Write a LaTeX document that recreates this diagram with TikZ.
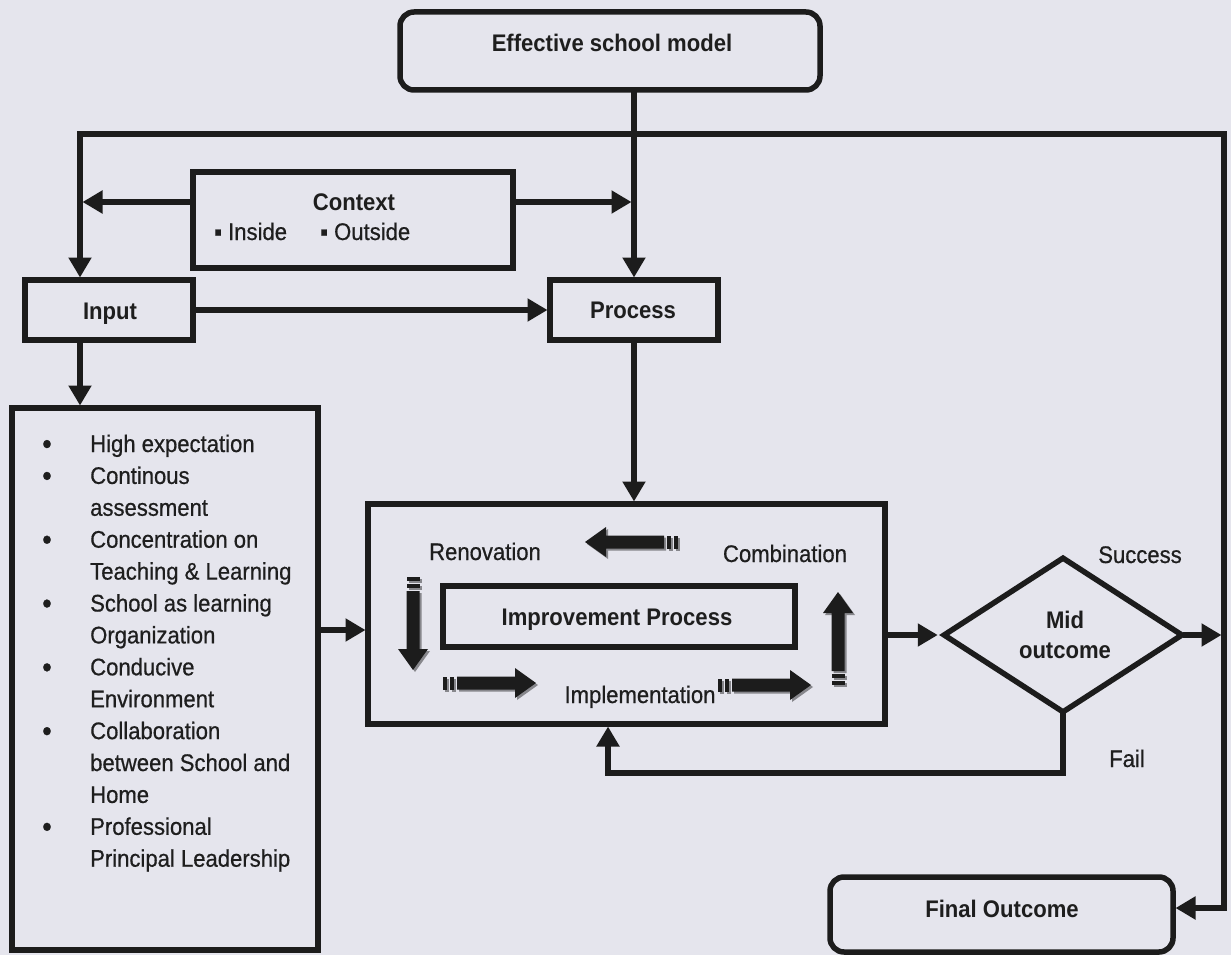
\documentclass[tikz,border=0pt]{standalone}
\usepackage{fontspec}
\setmainfont{Liberation Sans}[FakeStretch=0.92, UprightFeatures={FakeBold=0.6}]
\usetikzlibrary{arrows.meta,shapes.geometric,calc}
\definecolor{bgc}{RGB}{229,229,237}
\definecolor{ink}{RGB}{28,28,28}
\definecolor{txtc}{RGB}{30,30,30}
\definecolor{shd}{RGB}{135,135,140}
\tikzset{
  pics/barrow/.style={code={
    \fill[#1] (0,-6.5) rectangle (4,6.5);
    \fill[#1] (7,-6.5) rectangle (11,6.5);
    \fill[#1] (14,-6.5) -- (72,-6.5) -- (72,-15) -- (93,0) -- (72,15) -- (72,6.5) -- (14,6.5) -- cycle;
  }}
}
\begin{document}
\begin{tikzpicture}[x=1pt,y=-1pt,ink,
  box/.style={draw=ink, line width=5.5pt, inner sep=0pt, outer sep=0pt, rectangle},
  rbox/.style={box, rounded corners=14pt},
  ln/.style={draw=ink, line width=5.5pt, line cap=rect},
  arr/.style={ln, shorten >=2.5pt, -{Triangle[width=22pt,length=20pt]}},
  txt/.style={anchor=base, inner sep=0pt, text=txtc, font=\fontsize{24}{32}\selectfont},
  btxt/.style={txt, font=\fontsize{24}{32}\selectfont\bfseries}]
\path[fill=bgc, use as bounding box] (0,0) rectangle (1231,955);

% boxes
\node[rbox, minimum width=420pt, minimum height=78pt] (top) at (610,51) {};
\node[box, minimum width=320pt, minimum height=96pt] (ctx) at (353,220) {};
\node[box, minimum width=168pt, minimum height=60pt] (input) at (109,310) {};
\node[box, minimum width=168pt, minimum height=60pt] (process) at (634,310) {};
\node[box, minimum width=306pt, minimum height=542pt] (list) at (165,679) {};
\node[box, minimum width=517pt, minimum height=220pt] (outer) at (626.5,614) {};
\node[box, minimum width=352pt, minimum height=61pt] (inner) at (619,616.5) {};
\node[draw=ink, line width=5.5pt, inner sep=0pt, diamond, aspect=1.54, minimum width=240pt, minimum height=156pt] (dia) at (1063,635) {};
\node[rbox, minimum width=343pt, minimum height=75pt] (final) at (1001.5,914.5) {};

% texts
\node[btxt] (ttop) at (612,52) {Effective school model};
\node[btxt] (tctx) at (354,210) {Context};
\node[txt, anchor=base west] (tin) at (214,240) {▪ Inside};
\node[txt, anchor=base west] (tout) at (320,240) {▪ Outside};
\node[btxt] (tinput) at (110,319) {Input};
\node[btxt] (tproc) at (633,318) {Process};
\node[btxt] (timp) at (617,625) {Improvement Process};
\node[txt] (tren) at (485,560) {Renovation};
\node[txt] (tcomb) at (785,562) {Combination};
\node[txt] (timpl) at (640,703) {Implementation};
\node[btxt] (tmid) at (1065,628) {Mid};
\node[btxt] (toutc) at (1065,658) {outcome};
\node[txt] (tsucc) at (1140,563) {Success};
\node[txt] (tfail) at (1127,767) {Fail};
\node[btxt] (tfinal) at (1002,917) {Final Outcome};

\foreach \t/\b [count=\i from 0] in {High expectation/1, Continous/1, assessment/0, Concentration on/1, Teaching \& Learning/0, School as learning/1, Organization/0, Conducive/1, Environment/0, Collaboration/1, between School and/0, Home/0, Professional/1, Principal Leadership/0}{
  \node[txt, anchor=base west] (li\i) at (90,{452+31.9*\i}) {\t};
  \ifnum\b=1
    \node[txt, font=\fontsize{30}{30}\selectfont] (bu\i) at (47,{454+31.9*\i}) {•};
  \fi
}

% connectors
\coordinate (busL) at (80,134);
\coordinate (busR) at (1224,134);
\draw[arr] (busR) -- (busL) -- (busL |- input.north);
\draw[arr] (top.south -| process.north) -- (process.north);
\coordinate (cw) at ([yshift=18pt]ctx.west);
\coordinate (ce) at ([yshift=18pt]ctx.east);
\draw[arr] (cw) -- (cw -| busL);
\draw[arr] (ce) -- (ce -| process.north);
\draw[arr] (input.east) -- (process.west);
\draw[arr] (busL |- input.south) -- (busL |- list.north);
\coordinate (lo) at ([yshift=-16pt]outer.west);
\draw[arr] (lo -| list.east) -- (lo);
\draw[arr] (process.south) -- (process.south |- outer.north);
\draw[arr] (outer.east |- dia.west) -- (dia.west);
\draw[arr] (dia.east) -- (dia.east -| busR);
\coordinate (fl) at (608,773);
\draw[arr] (dia.south) |- (fl) -- (fl |- outer.south);
\draw[arr] (busR) |- ([yshift=6.5pt]final.east);

% striped block arrows inside the improvement box
\pic[rotate=180] (ba1s) at (680,544) {barrow=shd};
\pic[rotate=180] (ba1) at (678,542) {barrow=ink};
\pic[rotate=-90] (ba2s) at (415,579) {barrow=shd};
\pic[rotate=-90] (ba2) at (413,577) {barrow=ink};
\pic (ba3s) at (445,685) {barrow=shd};
\pic (ba3) at (443,683) {barrow=ink};
\pic (ba4s) at (720,687) {barrow=shd};
\pic (ba4) at (718,685) {barrow=ink};
\pic[rotate=90] (ba5s) at (840,687) {barrow=shd};
\pic[rotate=90] (ba5) at (838,685) {barrow=ink};
\end{tikzpicture}
\end{document}
